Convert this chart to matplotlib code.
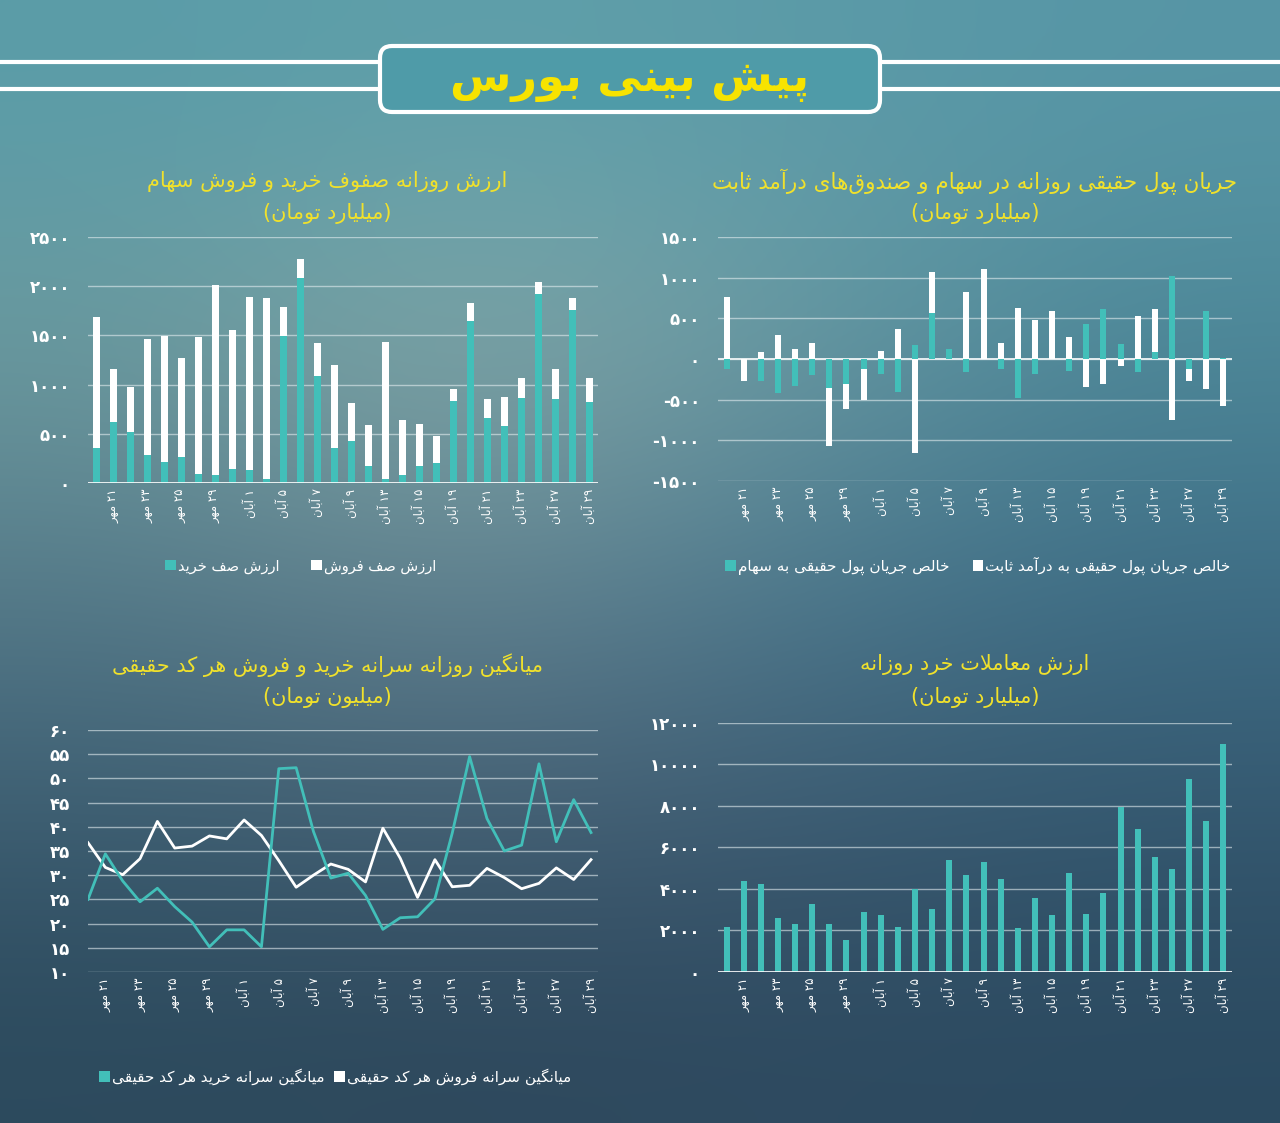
import re
import numpy as np
import matplotlib
matplotlib.use('Agg')
import matplotlib.pyplot as plt
from matplotlib.patches import FancyBboxPatch, Patch

plt.rcParams['font.family'] = ['DejaVu Sans']

# ---- data ----
days = [18, 21, 22, 23, 24, 25, 28, 29, 30, 1, 2, 5, 6, 7, 8, 9, 12, 13, 14, 15,
        16, 19, 20, 21, 22, 23, 26, 27, 28, 29]
months = ['مهر'] * 9 + ['آبان'] * 21

# ارزش صف خرید / فروش (میلیارد تومان)
queue_buy = [356, 624, 522, 285, 214, 261, 92, 81, 142, 132, 44, 1496, 2086, 1092, 360,
             431, 170, 44, 78, 176, 204, 831, 1649, 665, 577, 868, 1920, 851, 1754, 821]
queue_sell = [1327, 536, 455, 1177, 1282, 1014, 1390, 1934, 1415, 1761, 1832, 295, 194, 326, 837,
              386, 420, 1384, 563, 424, 274, 122, 179, 193, 298, 197, 122, 309, 122, 244]

# جریان پول حقیقی (میلیارد تومان)
flow_stock = [-122, 5, -268, -420, -337, -195, -358, -305, -122, -183, -410, 170, 565, 118, -163,
              0, -122, -480, -183, 0, -154, 435, 618, 187, -163, 81, 1024, -122, 590, 15]
flow_fixed = [760, -268, 90, 300, 122, 200, -1073, -614, -500, 102, 374, -1154, 1073, 0, 821,
              1101, 200, 622, 476, 590, 272, -350, -309, -81, 528, 610, -752, -268, -370, -581]

# میانگین سرانه خرید / فروش هر کد حقیقی (میلیون تومان)
per_capita_sell = [36.7, 31.6, 30.1, 33.4, 41.1, 35.6, 36.0, 38.1, 37.5, 41.4, 38.2, 33.0, 27.5, 30.0, 32.3,
                   31.2, 28.6, 39.7, 33.5, 25.4, 33.2, 27.6, 27.9, 31.4, 29.5, 27.2, 28.3, 31.5, 29.1, 33.2]
per_capita_buy = [25.0, 34.4, 28.8, 24.5, 27.3, 23.5, 20.3, 15.2, 18.7, 18.7, 15.2, 52.0, 52.2, 39.0, 29.4,
                  30.4, 25.8, 18.8, 21.2, 21.4, 25.1, 38.7, 54.5, 41.7, 35.0, 36.2, 53.0, 36.9, 45.6, 38.8]

# ارزش معاملات خرد (میلیارد تومان)
retail_value = [2179, 4390, 4260, 2585, 2325, 3252, 2325, 1545, 2911, 2748, 2146, 3984, 3041, 5415, 4667,
                5285, 4488, 2114, 3545, 2748, 4764, 2813, 3821, 7967, 6911, 5561, 4976, 9301, 7285, 10976]

TEAL = '#42bfb9'
YELLOW = '#f0e12c'

# ---- minimal persian shaping + rtl ----
DUAL = {'\u0628': 0xFE8F, '\u062A': 0xFE95, '\u062B': 0xFE99, '\u062C': 0xFE9D, '\u062D': 0xFEA1,
        '\u062E': 0xFEA5, '\u0633': 0xFEB1, '\u0634': 0xFEB5, '\u0635': 0xFEB9, '\u0639': 0xFEC9,
        '\u0641': 0xFED1, '\u0642': 0xFED5, '\u0644': 0xFEDD, '\u0645': 0xFEE1, '\u0646': 0xFEE5,
        '\u0647': 0xFEE9, '\u067E': 0xFB56, '\u06A9': 0xFB8E, '\u06AF': 0xFB92, '\u06CC': 0xFBFC}
RIGHT = {'\u0627': 0xFE8D, '\u0622': 0xFE81, '\u062F': 0xFEA9, '\u0631': 0xFEAD,
         '\u0632': 0xFEAF, '\u0648': 0xFEED}
FA_DIGITS = str.maketrans('0123456789', '۰۱۲۳۴۵۶۷۸۹')
MIRROR = str.maketrans('()', ')(')


def is_letter(c):
    return c in DUAL or c in RIGHT


def shape(word):
    word = word.replace('\u064a', '\u06cc').replace('\u0643', '\u06a9')
    out = []
    i = 0
    n = len(word)
    while i < n:
        c = word[i]
        prev = word[i - 1] if i > 0 else ''
        joins_prev = prev in DUAL and is_letter(c)
        nxt = word[i + 1] if i + 1 < n else ''
        if c == '\u0644' and nxt in ('\u0627', '\u0622'):
            base = 0xFEFB if nxt == '\u0627' else 0xFEF5
            out.append(chr(base + (1 if joins_prev else 0)))
            i += 2
            continue
        if c in DUAL:
            joins_next = is_letter(nxt)
            if joins_prev and joins_next:
                k = 3
            elif joins_next:
                k = 2
            elif joins_prev:
                k = 1
            else:
                k = 0
            out.append(chr(DUAL[c] + k))
        elif c in RIGHT:
            out.append(chr(RIGHT[c] + (1 if joins_prev else 0)))
        else:
            out.append(c)
        i += 1
    return ''.join(out)


def rtl(text):
    s = shape(text).replace('\u200c', '')
    runs = re.findall(r'[0-9\u06f0-\u06f9]+|[^0-9\u06f0-\u06f9]+', s)
    vis = []
    for r in reversed(runs):
        if r[0].isdigit():
            vis.append(r)
        else:
            vis.append(r[::-1].translate(MIRROR))
    return ''.join(vis)


def fa_num(v):
    return str(int(v)).translate(FA_DIGITS)


date_labels = [rtl(fa_num(d) + ' ' + m) for d, m in zip(days, months)]
x = np.arange(len(days))

# ---- figure + background ----
fig = plt.figure(figsize=(12.8, 11.23), dpi=100)
bg = fig.add_axes([0, 0, 1, 1], zorder=-10)
bg_rows = [['#5a9ca8', '#5fa0aa', '#5b9ba8', '#5796a6'],
           ['#6c9b9f', '#88a9a8', '#6a9aa3', '#4d8898'],
           ['#587e8c', '#6a8a95', '#4d7c90', '#3f7088'],
           ['#3f6175', '#4a6478', '#3f5f76', '#365a72'],
           ['#2c4a5d', '#2e485c', '#2e4a60', '#2b4a60']]
bg_img = np.array([[matplotlib.colors.to_rgb(c) for c in row] for row in bg_rows])
bg.imshow(bg_img, extent=(0, 1280, 1123, 0), interpolation='bicubic', aspect='auto')
bg.set_xlim(0, 1280)
bg.set_ylim(1123, 0)
bg.axis('off')

# header
for yy in (62, 89):
    bg.plot([0, 380], [yy, yy], color='white', lw=3, solid_capstyle='butt')
    bg.plot([880, 1280], [yy, yy], color='white', lw=3, solid_capstyle='butt')
bg.add_patch(FancyBboxPatch((380, 46), 500, 66, boxstyle='round,pad=0,rounding_size=12',
                            fc='#4f9ba8', ec='white', lw=3))
bg.text(630, 80, rtl('پیش بینی بورس'), color='#f7e300', fontsize=32, fontweight='bold',
        ha='center', va='center')


def style_axes(ax, yticks, xticks, xlabels):
    ax.set_facecolor('none')
    for s in ax.spines.values():
        s.set_visible(False)
    ax.set_yticks(yticks)
    ax.set_yticklabels([fa_num(v) for v in yticks], color='white', fontsize=12, fontweight='bold')
    ax.set_xticks(xticks)
    ax.set_xticklabels(xlabels, rotation=90, color='white', fontsize=8.5)
    ax.tick_params(length=0, axis='y', pad=13)
    ax.tick_params(length=0, axis='x', pad=4)
    ax.grid(axis='y', color='#e2ecef', alpha=0.6, lw=1)
    ax.set_axisbelow(True)


def title(xc, y1, y2, line1, line2, size=15):
    fig.text(xc, y1, rtl(line1), color=YELLOW, fontsize=size, ha='center', va='center')
    fig.text(xc, y2, rtl(line2), color=YELLOW, fontsize=15, ha='center', va='center')


def legend(xc, yc, items, gap, size=10.5):
    handles = [Patch(fc=c, ec='none', label=rtl(t)) for c, t in items]
    fig.legend(handles=handles, loc='center', bbox_to_anchor=(xc, yc), ncol=len(items),
               frameon=False, fontsize=size, labelcolor='white', handlelength=0.7,
               handleheight=0.7, handletextpad=0.15, columnspacing=gap)


# top-left: queues
ax1 = fig.add_axes([0.06875, 0.5699, 0.3984, 0.2191])
ax1.bar(x, queue_buy, width=0.42, color=TEAL)
ax1.bar(x, queue_sell, width=0.42, bottom=queue_buy, color='white')
ax1.set_xlim(-0.5, len(x) - 0.5)
ax1.set_ylim(0, 2500)
style_axes(ax1, [0, 500, 1000, 1500, 2000, 2500], x[1::2], date_labels[1::2])
ax1.axhline(0, color='white', lw=1.2)
title(0.2555, 0.838, 0.810, 'ارزش روزانه صفوف خرید و فروش سهام', '(میلیارد تومان)')
legend(0.235, 0.496, [(TEAL, 'ارزش صف خرید'), ('white', 'ارزش صف فروش')], 2.2)

# top-right: real money flow
ax2 = fig.add_axes([0.5609, 0.5717, 0.4016, 0.2173])
ax2.bar(x, flow_fixed, width=0.35, color='white')
ax2.bar(x, flow_stock, width=0.35, color=TEAL)
ax2.set_xlim(-0.5, len(x) - 0.5)
ax2.set_ylim(-1500, 1500)
style_axes(ax2, [-1500, -1000, -500, 0, 500, 1000, 1500], x[1::2], date_labels[1::2])
ax2.axhline(0, color='white', lw=1.2, zorder=0.5)
title(0.7617, 0.838, 0.810, 'جریان پول حقیقی روزانه در سهام و صندوق\u200cهای درآمد ثابت',
      '(میلیارد تومان)', size=15.5)
legend(0.764, 0.496, [(TEAL, 'خالص جریان پول حقیقی به سهام'),
                      ('white', 'خالص جریان پول حقیقی به درآمد ثابت')], 1.5, size=11)

# bottom-left: per capita lines
ax3 = fig.add_axes([0.06875, 0.1345, 0.3984, 0.2155])
ax3.plot(x, per_capita_sell, color='white', lw=2)
ax3.plot(x, per_capita_buy, color=TEAL, lw=2)
ax3.set_xlim(0, 29.4)
ax3.set_ylim(10, 60)
style_axes(ax3, list(range(10, 61, 5)), x[1::2], date_labels[1::2])
title(0.2555, 0.408, 0.379, 'میانگین روزانه سرانه خرید و فروش هر کد حقیقی', '(میلیون تومان)')
legend(0.262, 0.041, [(TEAL, 'میانگین سرانه خرید هر کد حقیقی'),
                      ('white', 'میانگین سرانه فروش هر کد حقیقی')], 0.6, size=11)

# bottom-right: retail value
ax4 = fig.add_axes([0.5609, 0.1345, 0.4016, 0.2217])
ax4.bar(x, retail_value, width=0.35, color=TEAL)
ax4.set_xlim(-0.5, len(x) - 0.5)
ax4.set_ylim(0, 12000)
style_axes(ax4, list(range(0, 12001, 2000)), x[1::2], date_labels[1::2])
ax4.axhline(0, color='white', lw=1.2)
title(0.7617, 0.408, 0.379, 'ارزش معاملات خرد روزانه', '(میلیارد تومان)')

fig.savefig('out.png', dpi=100)
